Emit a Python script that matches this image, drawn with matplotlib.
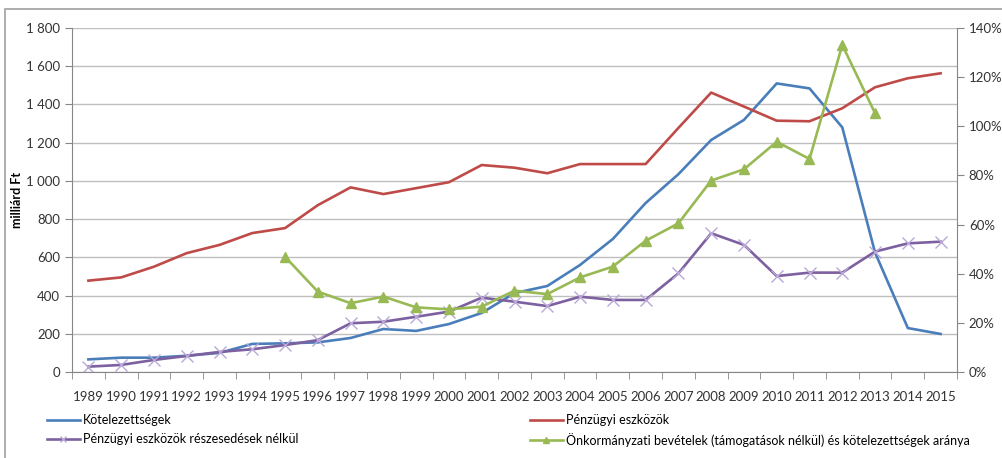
import numpy as np
import matplotlib.pyplot as plt
from matplotlib.patches import Rectangle
from matplotlib.ticker import FuncFormatter

plt.rcParams['font.family'] = ['Lato', 'DejaVu Sans']

years = [str(y) for y in range(1989, 2016)]

kotelezettsegek = [66, 75, 75, 85, 100, 147, 150, 155, 178, 225, 215, 251, 309,
                   413, 450, 560, 696, 884, 1035, 1214, 1319, 1510, 1484, 1280,
                   625, 230, 199]
penzugyi = [478, 495, 551, 622, 665, 727, 753, 873, 966, 931, 962, 993, 1083,
            1069, 1040, 1088, 1088, 1088, 1277, 1462, 1389, 1315, 1312, 1380,
            1490, 1537, 1563]
penzugyi_resz = [28, 37, 63, 84, 105, 119, 141, 167, 255, 263, 289, 316, 389,
                 368, 345, 394, 377, 377, 516, 726, 665, 502, 520, 520, 630,
                 673, 682]
# ratio, % (right axis), data from 1995 to 2013
arany_years = [str(y) for y in range(1995, 2014)]
arany = [46.9, 32.7, 28.0, 30.7, 26.3, 25.5, 26.6, 33.1, 31.7, 38.5, 42.9,
         53.4, 60.5, 77.9, 82.5, 93.7, 86.7, 133.1, 105.3]

c_blue = '#4A7EBB'
c_red = '#BE4B48'
c_purple = '#7D60A0'
c_green = '#98B954'
c_axis = '#868686'

fig = plt.figure(figsize=(10.02, 4.58), dpi=100)
ax = fig.add_axes([72 / 1002, 1 - 372 / 458, 885 / 1002, 344 / 458])

x = np.arange(len(years))
xa = np.array([years.index(y) for y in arany_years])

l1, = ax.plot(x, kotelezettsegek, color=c_blue, lw=1.9, label='Kötelezettségek')
l2, = ax.plot(x, penzugyi, color=c_red, lw=1.9, label='Pénzügyi eszközök')
l3, = ax.plot(x, penzugyi_resz, color=c_purple, lw=1.9, marker='x', ms=8,
              mec='#B9A8D8', mew=1.0, label='Pénzügyi eszközök részesedések nélkül')

ax.set_xlim(-0.5, len(years) - 0.5)
ax.set_ylim(0, 1800)
ax.set_yticks(np.arange(0, 1801, 200))
ax.yaxis.set_major_formatter(FuncFormatter(lambda v, p: f'{int(v):,}'.replace(',', ' ')))
ax.set_xticks(x)
ax.set_xticklabels(years)
ax.set_xticks(np.arange(-0.5, len(years), 1), minor=True)
ax.tick_params(axis='x', which='major', length=0, labelsize=9.5, colors='#333333', pad=14)
ax.tick_params(axis='x', which='minor', length=5, color=c_axis, direction='out')
ax.tick_params(axis='y', length=5, color=c_axis, labelsize=9.5, labelcolor='#333333')
ax.grid(axis='y', color='#BFBFBF', lw=1.0)
ax.set_axisbelow(True)
for s in ['top', 'right']:
    ax.spines[s].set_visible(False)
for s in ['left', 'bottom']:
    ax.spines[s].set_color(c_axis)
ax.set_ylabel('milliárd Ft', fontsize=9, fontweight='bold', labelpad=2)

ax2 = ax.twinx()
l4, = ax2.plot(xa, arany, color=c_green, lw=1.9, marker='^', ms=7,
               label='Önkormányzati bevételek (támogatások nélkül) és kötelezettségek aránya')
ax2.set_ylim(0, 140)
ax2.set_yticks(np.arange(0, 141, 20))
ax2.yaxis.set_major_formatter(FuncFormatter(lambda v, p: f'{int(v)}%'))
ax2.tick_params(axis='y', length=5, color=c_axis, labelsize=9.5, labelcolor='#333333')
for s in ['top', 'left', 'bottom']:
    ax2.spines[s].set_visible(False)
ax2.spines['right'].set_color(c_axis)

lkw = dict(frameon=False, fontsize=9, handlelength=2.6, handletextpad=0.3,
           labelspacing=0.55, borderaxespad=0, loc='upper left', markerscale=0.6)
fig.legend(handles=[l1, l3], bbox_to_anchor=(42 / 1002, 1 - 409 / 458), **lkw)
fig.legend(handles=[l2, l4], bbox_to_anchor=(525 / 1002, 1 - 409 / 458), **lkw)

fig.patches.append(Rectangle((5 / 1002, -0.02), 1.1, 1 - 9 / 458 + 0.02,
                             transform=fig.transFigure, fill=False,
                             ec='#A0A0A0', lw=1.2))

fig.savefig('out.png', dpi=100)
